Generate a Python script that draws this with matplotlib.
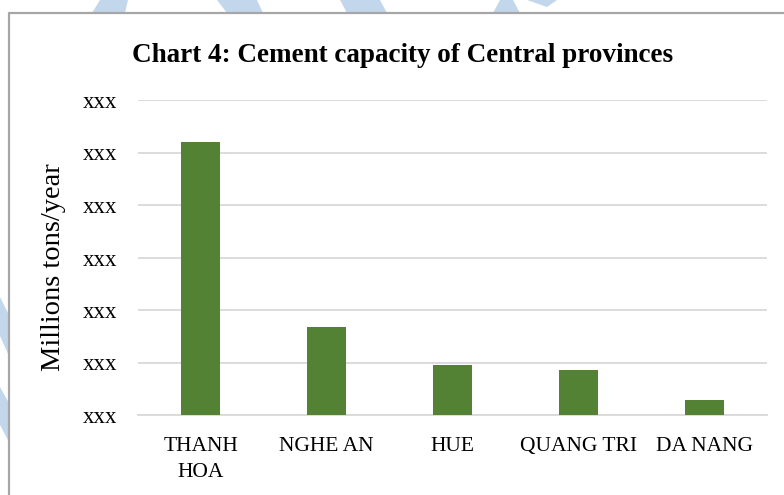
"""
Chart 4: cement capacity of Central provinces (bar chart, values hidden as xxx).
"""
import matplotlib
matplotlib.use("Agg")
import matplotlib.pyplot as plt
from matplotlib.patches import Polygon
from matplotlib.lines import Line2D

# Data (units = one gridline step)
provinces = ["THANH\nHOA", "NGHE AN", "HUE", "QUANG TRI", "DA NANG"]
capacity = [5.2, 1.68, 0.95, 0.85, 0.28]
y_ticks = [0, 1, 2, 3, 4, 5, 6]
y_tick_labels = ["xxx"] * len(y_ticks)

W, H = 784, 495
BAR_COLOR = "#548235"
GRID_COLOR = "#d9d9d9"
BORDER_COLOR = "#a6a6a6"
MARK_COLOR = "#c3d7ec"
SERIF = ["Liberation Serif", "DejaVu Serif"]


def px(x, y):
    """Pixel (from top-left) to figure fraction."""
    return x / W, 1 - y / H


fig = plt.figure(figsize=(W / 100, H / 100), dpi=100)
fig.patch.set_facecolor("white")

# Light-blue watermark pieces peeking out around the chart frame
watermark = [
    [(92, 13), (125, 13), (128, 0), (100, 0)],
    [(227, 13), (263, 13), (257, 0), (217, 0)],
    [(347, 13), (387, 13), (380, 0), (340, 0)],
    [(493, 13), (520, 13), (513, 0), (500, 0)],
    [(527, 0), (557, 0), (547, 7)],
    [(0, 297), (9, 315), (9, 356), (0, 336)],
    [(0, 387), (9, 403), (9, 442), (0, 425)],
]
for shape in watermark:
    fig.patches.append(Polygon([px(*p) for p in shape], closed=True,
                               transform=fig.transFigure, facecolor=MARK_COLOR,
                               edgecolor="none", zorder=0))

# Chart area frame (runs off the right and bottom edges)
fig.lines.append(Line2D(*zip(px(9, 500), px(9, 13), px(790, 13)),
                        transform=fig.transFigure, color=BORDER_COLOR,
                        linewidth=1.6, zorder=1))

left, right, top, bottom = 138, 767, 100, 415
ax = fig.add_axes([left / W, 1 - bottom / H, (right - left) / W, (bottom - top) / H])

x = range(len(provinces))
ax.bar(x, capacity, width=0.31, color=BAR_COLOR, zorder=3)

ax.set_xlim(-0.5, len(provinces) - 0.5)
ax.set_ylim(0, 6)
ax.set_yticks(y_ticks)
ax.set_yticklabels(y_tick_labels, fontsize=16.5, family=SERIF)
ax.set_xticks(list(x))
ax.set_xticklabels(provinces, fontsize=15.5, family=SERIF, linespacing=1.5, va="top")
ax.tick_params(axis="y", length=0, pad=15)
ax.tick_params(axis="x", length=0, pad=16)

ax.grid(axis="y", color=GRID_COLOR, linewidth=1.3, zorder=0)
for side in ["left", "right", "top"]:
    ax.spines[side].set_visible(False)
ax.spines["bottom"].set_color(GRID_COLOR)
ax.spines["bottom"].set_linewidth(1.3)

ax.set_ylabel("Millions tons/year", fontsize=20.5, family=SERIF)
ax.yaxis.label.set_va("center")
ax.yaxis.set_label_coords((53 - left) / (right - left), (bottom - 267) / (bottom - top))

fig.text(*px(403, 55), "Chart 4: Cement capacity of Central provinces",
         ha="center", va="center", fontsize=19.5, weight="bold", family=SERIF)

fig.savefig("out.png", dpi=100, facecolor="white")
